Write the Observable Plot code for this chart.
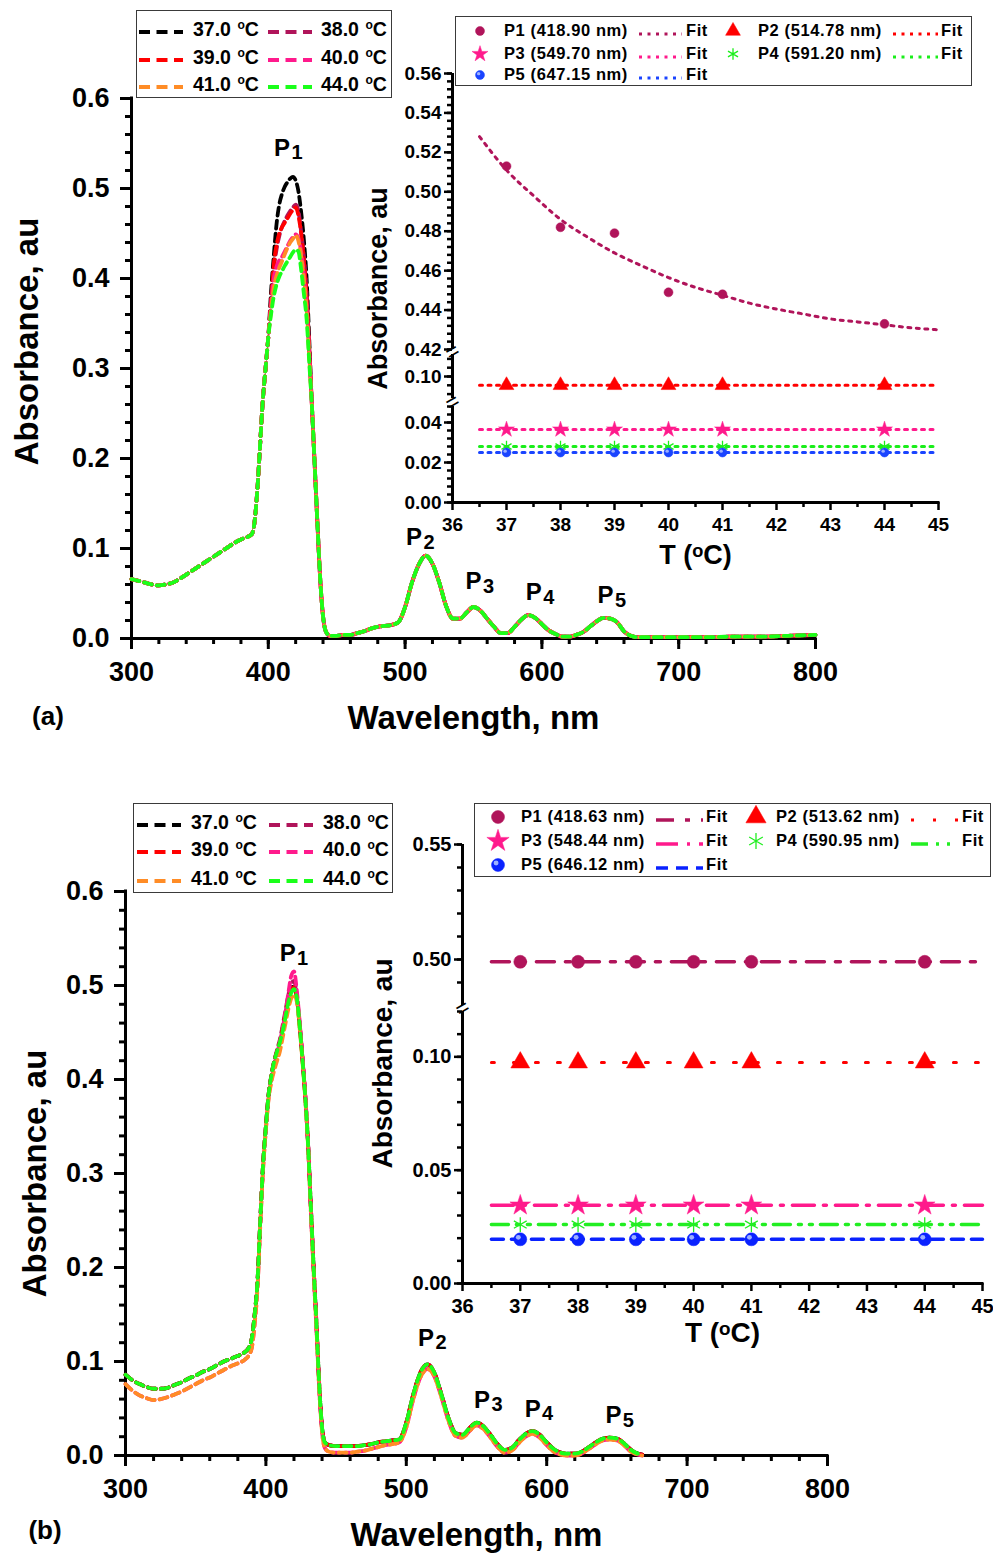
<!DOCTYPE html>
<html>
<head>
<meta charset="utf-8">
<script src="https://cdn.jsdelivr.net/npm/d3@7"></script>
<script src="https://cdn.jsdelivr.net/npm/@observablehq/plot@0.6"></script>
<style>
  html,body{margin:0;padding:0;background:#fff;}
  #fig{position:relative;width:993px;height:1555px;overflow:hidden;background:#fff;
       font-family:"Liberation Sans",Arial,Helvetica,sans-serif;font-weight:bold;color:#000;}
  .box{position:absolute;border:1.5px solid #3a3a3a;background:#fff;box-sizing:border-box;}
  .abs{position:absolute;white-space:nowrap;line-height:1;}
  .sup{font-size:0.62em;position:relative;top:-0.55em;margin-left:1px;}
  .tag{position:absolute;font-size:26px;transform:translate(-50%,-50%);}
</style>
</head>
<body>
<div id="fig"></div>
<script>
// ---------------- DATA ----------------
const temps = ["37.0", "38.0", "39.0", "40.0", "41.0", "44.0"];
const tempColors = ["#000000", "#b0145a", "#ff0000", "#ff1a8c", "#ff8c26", "#1aff1a"];

// Panel (a) spectra
const wlA_left = [300,305,310,315,320,325,330,335,340,345,350,355,360,365,370,375,380,385,388,390,392,394,396,398,400];
const absA_left = [0.066,0.064,0.062,0.060,0.059,0.060,0.062,0.066,0.071,0.076,0.081,0.086,0.091,0.096,0.101,0.106,0.110,0.113,0.116,0.130,0.165,0.215,0.265,0.300,0.335];
const wlA_peak = [402,404,406,408,410,412,414,416,418,420,422,424,426,428,430,432];
const peakA_37 = [0.385,0.425,0.460,0.482,0.494,0.502,0.507,0.511,0.513,0.509,0.497,0.474,0.443,0.400,0.330,0.255];
const peakA_38 = [0.375,0.410,0.432,0.447,0.457,0.464,0.470,0.475,0.479,0.482,0.475,0.452,0.425,0.385,0.320,0.255];
const peakA_39 = [0.375,0.415,0.437,0.450,0.457,0.462,0.467,0.472,0.476,0.479,0.470,0.450,0.420,0.380,0.320,0.255];
const peakA_40 = [0.370,0.400,0.413,0.420,0.424,0.430,0.436,0.442,0.446,0.449,0.445,0.430,0.405,0.370,0.315,0.255];
const peakA_41 = [0.365,0.390,0.403,0.412,0.419,0.427,0.434,0.440,0.444,0.448,0.442,0.425,0.400,0.365,0.310,0.255];
const peakA_44 = [0.360,0.380,0.393,0.402,0.408,0.414,0.419,0.424,0.429,0.432,0.430,0.410,0.383,0.355,0.305,0.255];
const wlA_right = [434,436,438,440,442,445,450,455,460,465,470,475,480,485,490,495,500,505,510,515,520,525,530,535,540,545,550,555,560,565,570,575,580,585,590,595,600,605,610,615,620,625,630,635,640,645,650,655,660,665,670,680,700,720,740,760,780,800];
const absA_right = [0.190,0.125,0.065,0.025,0.008,0.003,0.003,0.004,0.004,0.006,0.008,0.011,0.013,0.014,0.015,0.018,0.035,0.062,0.082,0.092,0.083,0.062,0.036,0.022,0.022,0.029,0.035,0.031,0.022,0.013,0.006,0.006,0.013,0.021,0.026,0.023,0.016,0.009,0.005,0.002,0.002,0.004,0.007,0.013,0.019,0.023,0.022,0.018,0.008,0.003,0.0015,0.0015,0.0015,0.0015,0.002,0.002,0.003,0.004];

// Panel (b) spectra
const wlB_left = [300,305,310,315,320,325,330,335,340,345,350,355,360,365,370,375,380,385,388,390,392,394,396,398,400];
const absB_left_hi = [0.086,0.080,0.076,0.073,0.071,0.071,0.072,0.075,0.078,0.082,0.085,0.089,0.092,0.096,0.100,0.103,0.106,0.110,0.115,0.125,0.150,0.185,0.250,0.310,0.350];
const absB_left_lo = [0.076,0.069,0.064,0.061,0.059,0.060,0.062,0.065,0.068,0.072,0.076,0.080,0.083,0.087,0.091,0.095,0.098,0.102,0.107,0.115,0.140,0.178,0.245,0.305,0.347];
const wlB_peak = [402,404,406,408,410,412,414,416,418,420,422,424,426,428,430];
const peakB_37 = [0.385,0.405,0.420,0.430,0.440,0.455,0.470,0.485,0.495,0.500,0.488,0.458,0.422,0.382,0.332];
const peakB_38 = [0.385,0.405,0.420,0.432,0.443,0.458,0.474,0.490,0.502,0.505,0.490,0.460,0.424,0.383,0.333];
const peakB_39 = [0.385,0.405,0.420,0.430,0.440,0.455,0.470,0.485,0.494,0.498,0.487,0.458,0.422,0.382,0.332];
const peakB_40 = [0.382,0.400,0.415,0.428,0.440,0.455,0.472,0.492,0.510,0.515,0.495,0.462,0.425,0.384,0.333];
const peakB_41 = [0.380,0.398,0.410,0.420,0.430,0.445,0.460,0.475,0.486,0.490,0.483,0.455,0.420,0.380,0.330];
const peakB_44 = [0.385,0.405,0.420,0.430,0.440,0.452,0.467,0.482,0.492,0.496,0.487,0.458,0.422,0.382,0.332];
const wlB_right = [432,434,436,438,440,442,445,450,455,460,465,470,475,480,485,490,495,500,505,510,515,520,525,530,535,540,545,550,555,560,565,570,575,580,585,590,595,600,605,610,615,620,625,630,635,640,645,650,655,660,665,668];
const absB_right_hi = [0.265,0.200,0.140,0.075,0.030,0.014,0.011,0.010,0.010,0.010,0.010,0.011,0.012,0.014,0.015,0.016,0.017,0.035,0.065,0.088,0.097,0.088,0.065,0.040,0.024,0.022,0.029,0.035,0.031,0.022,0.012,0.006,0.008,0.016,0.023,0.026,0.022,0.014,0.007,0.003,0.002,0.002,0.004,0.009,0.014,0.018,0.019,0.018,0.013,0.006,0.002,0.001];
const absB_right_lo = [0.260,0.195,0.135,0.070,0.025,0.008,0.004,0.003,0.003,0.003,0.004,0.005,0.007,0.009,0.011,0.012,0.014,0.030,0.060,0.083,0.092,0.084,0.062,0.037,0.021,0.019,0.026,0.032,0.028,0.019,0.009,0.003,0.005,0.013,0.020,0.023,0.019,0.011,0.004,0.001,0.000,0.000,0.002,0.007,0.012,0.016,0.017,0.016,0.011,0.004,0.001,0.000];
const groupB = ["hi", "hi", "hi", "lo", "lo", "hi"];

// Peak labels (P1..P5) anchor positions (wavelength, absorbance)
const peakSubs = ["1", "2", "3", "4", "5"];
const pLabelWlA = [410, 506.5, 550, 594, 646.5];
const pLabelAbsA = [0.545, 0.112, 0.063, 0.051, 0.048];
const pLabelWlB = [415.5, 514, 554, 590, 647.5];
const pLabelAbsB = [0.534, 0.125, 0.059, 0.0495, 0.0428];

// Main axes ticks
const mainYTicks = [0, 0.1, 0.2, 0.3, 0.4, 0.5, 0.6];
const mainYLabels = ["0.0", "0.1", "0.2", "0.3", "0.4", "0.5", "0.6"];
const mainXTicks = [300, 400, 500, 600, 700, 800];
const mainXLabels = ["300", "400", "500", "600", "700", "800"];

// Insets
const insetT = [37, 38, 39, 40, 41, 44];
const insetXTicks = [36, 37, 38, 39, 40, 41, 42, 43, 44, 45];
const peakNamesA = ["P1 (418.90 nm)", "P2 (514.78 nm)", "P3 (549.70 nm)", "P4 (591.20 nm)", "P5 (647.15 nm)"];
const insA_P1 = [0.513, 0.482, 0.479, 0.449, 0.448, 0.433];
const insA_P2 = [0.096, 0.096, 0.096, 0.096, 0.096, 0.096];
const insA_P3 = [0.0365, 0.0365, 0.0365, 0.0365, 0.0365, 0.0365];
const insA_P4 = [0.028, 0.028, 0.028, 0.028, 0.028, 0.028];
const insA_P5 = [0.025, 0.025, 0.025, 0.025, 0.025, 0.025];
const fitA_P1_T = [36.5, 37, 37.5, 38, 38.5, 39, 39.5, 40, 40.5, 41, 41.5, 42, 42.5, 43, 43.5, 44, 44.5, 45];
const fitA_P1_v = [0.528, 0.511, 0.498, 0.486, 0.477, 0.469, 0.4625, 0.4565, 0.4515, 0.4475, 0.4435, 0.4405, 0.438, 0.4355, 0.434, 0.4325, 0.431, 0.430];
const fitFlatT = [36.5, 45];
const insetAYTicksUp = [0.42, 0.44, 0.46, 0.48, 0.50, 0.52, 0.54, 0.56];
const insetAYLabelsUp = ["0.42", "0.44", "0.46", "0.48", "0.50", "0.52", "0.54", "0.56"];
const insetAYTicksMid = [0.10];
const insetAYLabelsMid = ["0.10"];
const insetAYTicksLow = [0, 0.02, 0.04];
const insetAYLabelsLow = ["0.00", "0.02", "0.04"];

const peakNamesB = ["P1 (418.63 nm)", "P2 (513.62 nm)", "P3 (548.44 nm)", "P4 (590.95 nm)", "P5 (646.12 nm)"];
const insB_P1 = [0.499, 0.499, 0.499, 0.499, 0.499, 0.499];
const insB_P2 = [0.0975, 0.0975, 0.0975, 0.0975, 0.0975, 0.0975];
const insB_P3 = [0.0345, 0.0345, 0.0345, 0.0345, 0.0345, 0.0345];
const insB_P4 = [0.026, 0.026, 0.026, 0.026, 0.026, 0.026];
const insB_P5 = [0.0195, 0.0195, 0.0195, 0.0195, 0.0195, 0.0195];
const insetBYTicksUp = [0.50, 0.55];
const insetBYLabelsUp = ["0.50", "0.55"];
const insetBYTicksLow = [0, 0.05, 0.10];
const insetBYLabelsLow = ["0.00", "0.05", "0.10"];

// ---------------- HELPERS ----------------
const fig = document.getElementById("fig");
const FONT = '"Liberation Sans", Arial, Helvetica, sans-serif';
const svgStyle = {fontFamily: FONT, fontWeight: "bold", background: "none", overflow: "visible", color: "#000"};

function put(el, left, top) {
  el.style.position = "absolute";
  el.style.left = left + "px";
  el.style.top = top + "px";
  fig.appendChild(el);
  return el;
}
function joinSpectrum(w1, a1, w2, a2, w3, a3) {
  const out = [];
  w1.forEach((w, i) => out.push({wl: w, a: a1[i]}));
  w2.forEach((w, i) => out.push({wl: w, a: a2[i]}));
  w3.forEach((w, i) => out.push({wl: w, a: a3[i]}));
  return out;
}
const labelOf = (ticks, labels) => d => { const i = ticks.findIndex(t => Math.abs(t - d) < 1e-9); return i >= 0 ? labels[i] : ""; };

function mainPanel(cfg) {
  const yMinor = d3.range(0, 0.6001, 0.02);
  const xMinor = d3.range(300, 801, 20);
  const marks = [
    Plot.axisY({ticks: yMinor, tickSize: 6, tickFormat: () => "", strokeWidth: 3, label: null}),
    Plot.axisY({ticks: mainYTicks, tickSize: 11, tickPadding: 11, tickFormat: labelOf(mainYTicks, mainYLabels), fontSize: 27, strokeWidth: 3, label: null}),
    Plot.axisX({ticks: xMinor, tickSize: 6, tickFormat: () => "", strokeWidth: 3, label: null}),
    Plot.axisX({ticks: mainXTicks, tickSize: 11, tickPadding: 12, tickFormat: labelOf(mainXTicks, mainXLabels), fontSize: 27, strokeWidth: 3, label: null}),
    Plot.ruleX([300], {strokeWidth: 3, strokeLinecap: "square"}),
    Plot.ruleY([0], {strokeWidth: 3, strokeLinecap: "square"})
  ];
  cfg.series.forEach((pts, i) => {
    marks.push(Plot.line(pts, {x: "wl", y: "a", stroke: tempColors[i], strokeWidth: 3.8, strokeDasharray: "8,5", curve: "monotone-x"}));
  });
  const lbl = cfg.pWl.map((w, i) => ({wl: w, a: cfg.pAbs[i], s: peakSubs[i]}));
  marks.push(Plot.text(lbl, {x: "wl", y: "a", text: () => "P", fontSize: 24}));
  marks.push(Plot.text(lbl, {x: "wl", y: "a", text: "s", fontSize: 20, dx: 15, dy: 5}));
  marks.push(Plot.text(["Absorbance, au"], {frameAnchor: "left", text: d => d, rotate: -90, dx: cfg.ytDx, dy: cfg.ytDy, fontSize: 33, textAnchor: "middle", lineAnchor: "middle"}));
  marks.push(Plot.text(["Wavelength, nm"], {frameAnchor: "bottom", text: d => d, dy: cfg.xtDy, fontSize: 33, textAnchor: "middle", lineAnchor: "middle"}));
  return Plot.plot({
    width: cfg.width, height: cfg.height,
    marginLeft: cfg.mL, marginRight: cfg.mR, marginTop: cfg.mT, marginBottom: cfg.mB,
    x: {domain: [300, 800]},
    y: {domain: [0, 0.6]},
    style: svgStyle,
    marks
  });
}

// Inset with a broken y axis: one Plot per y-segment, stacked top to bottom
function insetStack(cfg) {
  cfg.segs.forEach((seg, k) => {
    const isBottom = k === cfg.segs.length - 1;
    const h = seg.bottom - seg.top;
    const marks = [
      Plot.axisY({ticks: seg.minor, tickSize: 5, tickFormat: () => "", strokeWidth: 2.5, label: null}),
      Plot.axisY({ticks: seg.ticks, tickSize: 8, tickPadding: 3, tickFormat: labelOf(seg.ticks, seg.labels), fontSize: cfg.tickFont, strokeWidth: 2.5, label: null}),
      Plot.ruleX([36], {strokeWidth: 3})
    ];
    if (isBottom) {
      marks.push(Plot.axisX({ticks: d3.range(36.5, 45, 1), tickSize: 5, tickFormat: () => "", strokeWidth: 2.5, label: null}));
      marks.push(Plot.axisX({ticks: insetXTicks, tickSize: 8, tickPadding: 7, tickFormat: d3.format("d"), fontSize: cfg.tickFont, strokeWidth: 2.5, label: null}));
      marks.push(Plot.ruleY([0], {strokeWidth: 3, strokeLinecap: "square"}));
      marks.push(Plot.text(["T (ᵒC)"], {frameAnchor: "bottom", text: d => d, dy: cfg.xtDy, fontSize: cfg.titleFont, textAnchor: "middle", lineAnchor: "middle"}));
    }
    if (seg.breakGap) {
      marks.push(Plot.text([{x: 36, y: seg.domain[1]}], {x: "x", y: "y", text: () => "=", rotate: -30, dy: -seg.breakGap / 2, fontSize: 22, fontWeight: "normal"}));
    }
    seg.series.forEach(i => {
      const s = cfg.series[i];
      const fit = s.fitT.map((t, j) => ({t, v: s.fitV[j]}));
      marks.push(Plot.line(fit, {x: "t", y: "v", stroke: s.color, strokeWidth: s.lw, strokeDasharray: s.dash, curve: "monotone-x"}));
    });
    seg.series.forEach(i => {
      const s = cfg.series[i];
      const pts = insetT.map((t, j) => ({t, v: s.vals[j]}));
      const filled = s.symbol !== "asterisk";
      marks.push(Plot.dot(pts, {x: "t", y: "v", symbol: s.symbol, r: s.r, fill: filled ? s.color : "none", stroke: s.color, strokeWidth: filled ? 0.5 : 1.3}));
      if (s.sphere) marks.push(Plot.dot(pts, {x: "t", y: "v", r: s.r * 0.38, fill: "#9db0ff", dx: -s.r * 0.3, dy: -s.r * 0.3}));
    });
    if (seg.title) {
      marks.push(Plot.text(["Absorbance, au"], {frameAnchor: "left", text: d => d, rotate: -90, dx: cfg.ytDx, dy: cfg.titleCenter - (seg.top + seg.bottom) / 2, fontSize: cfg.titleFont, textAnchor: "middle", lineAnchor: "middle"}));
    }
    const svg = Plot.plot({
      width: cfg.width, height: h + (isBottom ? cfg.mB : 0),
      marginLeft: cfg.mL, marginRight: cfg.mR, marginTop: 0, marginBottom: isBottom ? cfg.mB : 0,
      x: {domain: [36, 45], axis: isBottom ? undefined : null},
      y: {domain: seg.domain},
      style: svgStyle,
      marks
    });
    put(svg, cfg.left, seg.top);
  });
}

function symbolSvg(sym, color, r, sphere) {
  const types = {circle: d3.symbolCircle, triangle: d3.symbolTriangle, star: d3.symbolStar, asterisk: d3.symbolAsterisk};
  const path = d3.symbol(types[sym], Math.PI * r * r)();
  const filled = sym !== "asterisk";
  let s = `<svg width="24" height="24" viewBox="-12 -12 24 24"><path d="${path}" fill="${filled ? color : "none"}" stroke="${color}" stroke-width="${filled ? 0.5 : 1.3}"/>`;
  if (sphere) s += `<circle cx="${-r * 0.3}" cy="${-r * 0.3}" r="${r * 0.38}" fill="#9db0ff"/>`;
  return s + "</svg>";
}

function tempLegend(box, lineStarts, textStarts, rows) {
  const div = document.createElement("div");
  div.className = "box";
  div.style.width = box.w + "px"; div.style.height = box.h + "px";
  put(div, box.x, box.y);
  temps.forEach((t, i) => {
    const r = Math.floor(i / 2), c = i % 2;
    const ln = document.createElement("div");
    ln.className = "abs";
    ln.innerHTML = `<svg width="46" height="10"><line x1="1" y1="5" x2="45" y2="5" stroke="${tempColors[i]}" stroke-width="4" stroke-dasharray="11,6.5"/></svg>`;
    ln.style.left = lineStarts[c] + "px"; ln.style.top = (rows[r] - 6) + "px";
    div.appendChild(ln);
    const tx = document.createElement("div");
    tx.className = "abs";
    tx.style.fontSize = "19.5px";
    tx.innerHTML = `${t} <span class="sup">o</span>C`;
    tx.style.left = textStarts[c] + "px"; tx.style.top = (rows[r] - 10) + "px";
    div.appendChild(tx);
  });
}

function peakLegend(box, names, series, L) {
  const div = document.createElement("div");
  div.className = "box";
  div.style.width = box.w + "px"; div.style.height = box.h + "px";
  put(div, box.x, box.y);
  series.forEach((s, i) => {
    const r = Math.floor(i / 2), c = i % 2;
    const cy = L.rows[r];
    const mk = document.createElement("div");
    mk.className = "abs";
    mk.innerHTML = symbolSvg(s.symbol, s.color, s.legR, s.sphere);
    mk.style.left = (L.marker[c] - 12) + "px"; mk.style.top = (cy - 12) + "px";
    div.appendChild(mk);
    const tx = document.createElement("div");
    tx.className = "abs";
    tx.style.fontSize = "16.5px"; tx.style.letterSpacing = "0.6px";
    tx.textContent = names[i];
    tx.style.left = L.text[c] + "px"; tx.style.top = (cy - 9) + "px";
    div.appendChild(tx);
    const ln = document.createElement("div");
    ln.className = "abs";
    const w = L.lineEnd[c] - L.lineStart[c];
    ln.innerHTML = `<svg width="${w}" height="10"><line x1="0" y1="5" x2="${w}" y2="5" stroke="${s.color}" stroke-width="${s.lw}" stroke-dasharray="${s.dash}"/></svg>`;
    ln.style.left = L.lineStart[c] + "px"; ln.style.top = (cy - 5) + "px";
    div.appendChild(ln);
    const ft = document.createElement("div");
    ft.className = "abs";
    ft.style.fontSize = "16.5px"; ft.style.letterSpacing = "0.6px";
    ft.textContent = "Fit";
    ft.style.left = L.fit[c] + "px"; ft.style.top = (cy - 9) + "px";
    div.appendChild(ft);
  });
}

// ---------------- PANEL (a) ----------------
const peaksA = [peakA_37, peakA_38, peakA_39, peakA_40, peakA_41, peakA_44];
const seriesA = peaksA.map(p => joinSpectrum(wlA_left, absA_left, wlA_peak, p, wlA_right, absA_right));
put(mainPanel({series: seriesA, pWl: pLabelWlA, pAbs: pLabelAbsA, width: 860, height: 740, mL: 131, mR: 45, mT: 98, mB: 102, ytDx: -104, ytDy: -27, xtDy: 80}), 0, 0);

const insASeries = [
  {vals: insA_P1, fitT: fitA_P1_T, fitV: fitA_P1_v, color: "#b0145a", symbol: "circle", r: 4.5, legR: 4.5},
  {vals: insA_P2, fitT: fitFlatT, fitV: [insA_P2[0], insA_P2[0]], color: "#ff0000", symbol: "triangle", r: 5.5, legR: 5.5},
  {vals: insA_P3, fitT: fitFlatT, fitV: [insA_P3[0], insA_P3[0]], color: "#ff1a8c", symbol: "star", r: 5, legR: 5},
  {vals: insA_P4, fitT: fitFlatT, fitV: [insA_P4[0], insA_P4[0]], color: "#1aee1a", symbol: "asterisk", r: 5.5, legR: 5.5},
  {vals: insA_P5, fitT: fitFlatT, fitV: [insA_P5[0], insA_P5[0]], color: "#1a44ff", symbol: "circle", r: 4.5, legR: 4.5, sphere: true}
];
insASeries.forEach(s => { s.dash = "3,5.5"; s.lw = 3; });
insetStack({
  series: insASeries, left: 360, width: 620, mL: 92, mR: 42, mB: 78,
  tickFont: 19, titleFont: 27, ytDx: -74, xtDy: 53, titleCenter: 288,
  segs: [
    {domain: [0.42, 0.56], top: 73, bottom: 349, ticks: insetAYTicksUp, labels: insetAYLabelsUp, minor: d3.range(0.42, 0.5601, 0.004), series: [0], title: true},
    {domain: [0.09, 0.11], top: 354, bottom: 398, ticks: insetAYTicksMid, labels: insetAYLabelsMid, minor: d3.range(0.092, 0.1081, 0.004), series: [1], breakGap: 5},
    {domain: [0, 0.048], top: 406, bottom: 502, ticks: insetAYTicksLow, labels: insetAYLabelsLow, minor: d3.range(0, 0.0481, 0.004), series: [2, 3, 4], breakGap: 8}
  ]
});

tempLegend({x: 136, y: 10, w: 256, h: 88}, [1, 130], [56, 184], [19, 47, 74]);
peakLegend({x: 455, y: 16, w: 517, h: 70}, peakNamesA, insASeries,
  {rows: [14, 37, 58], marker: [24, 277], text: [48, 302], lineStart: [183, 437], lineEnd: [226, 482], fit: [230, 485]});

// ---------------- PANEL (b) ----------------
const peaksB = [peakB_37, peakB_38, peakB_39, peakB_40, peakB_41, peakB_44];
const seriesB = peaksB.map((p, i) => groupB[i] === "hi"
  ? joinSpectrum(wlB_left, absB_left_hi, wlB_peak, p, wlB_right, absB_right_hi)
  : joinSpectrum(wlB_left, absB_left_lo, wlB_peak, p, wlB_right, absB_right_lo));
put(mainPanel({series: seriesB, pWl: pLabelWlB, pAbs: pLabelAbsB, width: 860, height: 775, mL: 125, mR: 33, mT: 111, mB: 100, ytDx: -90, ytDy: 0, xtDy: 80}), 0, 780);

const insBSeries = [
  {vals: insB_P1, color: "#b0145a", symbol: "circle", r: 6.5, legR: 6.5, dash: "18,11,5,11", lw: 3.5},
  {vals: insB_P2, color: "#ff0000", symbol: "triangle", r: 7, legR: 7.5, dash: "3,19", lw: 3},
  {vals: insB_P3, color: "#ff1a8c", symbol: "star", r: 6.5, legR: 7, dash: "22,9,3,9", lw: 3.5},
  {vals: insB_P4, color: "#22ee22", symbol: "asterisk", r: 7, legR: 7.5, dash: "17,8,3,8,3,8", lw: 3.5},
  {vals: insB_P5, color: "#0a22ff", symbol: "circle", r: 6.5, legR: 6.5, sphere: true, dash: "12,8", lw: 3.5}
];
insBSeries.forEach(s => { s.fitT = fitFlatT; s.fitV = [s.vals[0], s.vals[0]]; });
insetStack({
  series: insBSeries, left: 370, width: 625, mL: 92, mR: 13, mB: 77,
  tickFont: 20, titleFont: 28, ytDx: -79, xtDy: 50, titleCenter: 1063,
  segs: [
    {domain: [0.48, 0.55], top: 844, bottom: 1005, ticks: insetBYTicksUp, labels: insetBYLabelsUp, minor: d3.range(0.49, 0.5501, 0.01), series: [0]},
    {domain: [0, 0.12], top: 1011, bottom: 1283, ticks: insetBYTicksLow, labels: insetBYLabelsLow, minor: d3.range(0, 0.1201, 0.01), series: [1, 2, 3, 4], breakGap: 6, title: true}
  ]
});

tempLegend({x: 133, y: 803, w: 260, h: 90}, [2, 134], [57, 189], [19, 46, 75]);
peakLegend({x: 474, y: 803, w: 517, h: 74}, peakNamesB, insBSeries,
  {rows: [13, 37, 61], marker: [23, 281], text: [46, 301], lineStart: [181, 436], lineEnd: [228, 483], fit: [231, 487]});

// Panel tags
const tagA = document.createElement("div"); tagA.className = "tag"; tagA.textContent = "(a)"; put(tagA, 48, 716);
const tagB = document.createElement("div"); tagB.className = "tag"; tagB.textContent = "(b)"; put(tagB, 45, 1530);
</script>
</body>
</html>
